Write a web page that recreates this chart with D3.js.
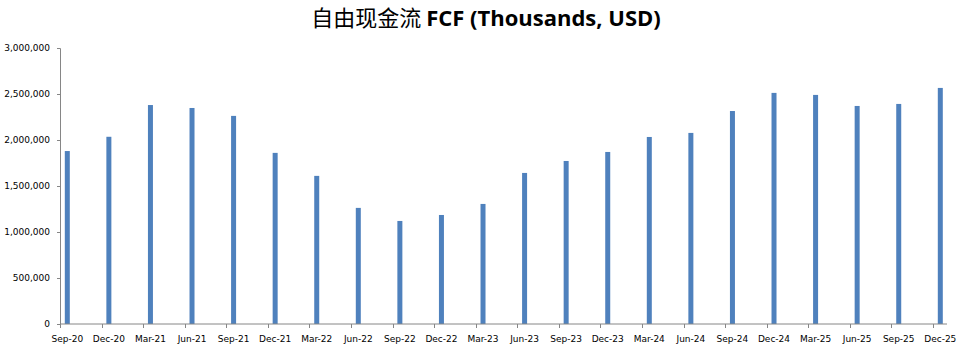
<!DOCTYPE html>
<html>
<head>
<meta charset="utf-8">
<script src="https://cdn.jsdelivr.net/npm/d3@7"></script>
<style>
  body { margin: 0; background: #fff; }
  .tick text { font-family: "DejaVu Sans", Tahoma, sans-serif; font-size: 9px; fill: #000; }
</style>
</head>
<body>
<div id="chart"></div>
<script>
// quarterly labels and free cash flow values (thousands USD)
const quarters = ["Sep-20", "Dec-20", "Mar-21", "Jun-21", "Sep-21", "Dec-21", "Mar-22", "Jun-22",
  "Sep-22", "Dec-22", "Mar-23", "Jun-23", "Sep-23", "Dec-23", "Mar-24", "Jun-24",
  "Sep-24", "Dec-24", "Mar-25", "Jun-25", "Sep-25", "Dec-25"];
const fcf = [1880000, 2035000, 2380000, 2348000, 2262000, 1860000, 1610000, 1262000,
  1120000, 1185000, 1305000, 1642000, 1772000, 1870000, 2033000, 2077000,
  2315000, 2512000, 2490000, 2370000, 2392000, 2566000];
const yTicks = [0, 500000, 1000000, 1500000, 2000000, 2500000, 3000000];

const width = 971, height = 351;
const margin = {top: 48, bottom: 324, left: 60, right: 947};

const svg = d3.select("#chart")
  .append("svg")
  .attr("width", width)
  .attr("height", height);

// title: chinese part regular, english part bold
const title = svg.append("text")
  .attr("x", 486)
  .attr("y", 26)
  .attr("text-anchor", "middle")
  .style("font-size", "22px");
title.append("tspan")
  .style("font-family", "'Noto Sans CJK SC', sans-serif")
  .style("font-weight", "normal")
  .text("自由现金流 ");
title.append("tspan")
  .style("font-family", "'Open Sans', sans-serif")
  .style("font-weight", "bold")
  .text("FCF (Thousands, USD)");

// x: tick at category start, bar sits a little to the right
const xScale = d3.scaleLinear()
  .domain([0, quarters.length - 1])
  .range([margin.left, 933]);
const barOffset = 7.3, barWidth = 5;

const yScale = d3.scaleLinear()
  .domain([0, 3000000])
  .range([margin.bottom, margin.top]);

// y axis
const yAxis = svg.append("g")
  .attr("transform", "translate(" + margin.left + ",0)")
  .call(d3.axisLeft(yScale).tickValues(yTicks).tickSize(3).tickPadding(7)
    .tickFormat(d3.format(",")));
yAxis.select(".domain").attr("stroke", "#868686");
yAxis.selectAll(".tick line").attr("stroke", "#868686");

// bars
svg.selectAll(".bar")
  .data(fcf)
  .enter()
  .append("rect")
  .attr("class", "bar")
  .attr("x", (d, i) => xScale(i) + barOffset - barWidth / 2)
  .attr("width", barWidth)
  .attr("y", d => yScale(d))
  .attr("height", d => yScale(0) - yScale(d))
  .attr("fill", "#4F81BD");

// x axis line + tick marks
const xAxis = svg.append("g")
  .attr("transform", "translate(0," + margin.bottom + ")");
xAxis.append("line")
  .attr("x1", margin.left).attr("x2", margin.right)
  .attr("stroke", "#868686");
xAxis.selectAll(".xtick")
  .data(quarters)
  .enter()
  .append("line")
  .attr("x1", (d, i) => Math.round(xScale(i)) + 0.5)
  .attr("x2", (d, i) => Math.round(xScale(i)) + 0.5)
  .attr("y1", 0).attr("y2", 4)
  .attr("stroke", "#868686");
xAxis.selectAll(".xlabel")
  .data(quarters)
  .enter()
  .append("text")
  .attr("x", (d, i) => xScale(i) + barOffset)
  .attr("y", 18)
  .attr("text-anchor", "middle")
  .style("font-family", "'DejaVu Sans', Tahoma, sans-serif")
  .style("font-size", "9px")
  .text(d => d);
</script>
</body>
</html>
